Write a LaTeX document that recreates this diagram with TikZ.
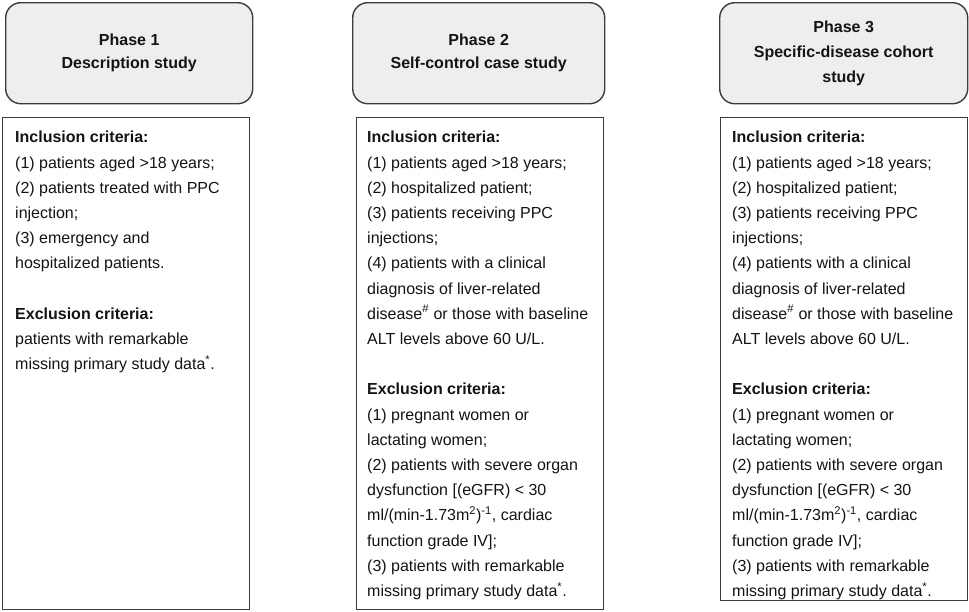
\documentclass[tikz,border=0pt]{standalone}
\usepackage{fontspec}
\setmainfont{Liberation Sans}
\definecolor{headfill}{RGB}{238,238,238}
\definecolor{boxline}{RGB}{60,60,60}
\definecolor{txt}{RGB}{20,20,20}
\begin{document}
\begin{tikzpicture}[x=1pt,y=-1pt,
  phasebox/.style={draw=boxline, fill=headfill, rounded corners=15pt, line width=1.4pt, anchor=north west, inner sep=0pt},
  critbox/.style={draw=boxline, fill=white, line width=1.4pt, anchor=north west, inner sep=0pt},
  headtext/.style={inner sep=0pt, align=center, text=txt, font=\fontsize{16}{23}\selectfont\bfseries},
  crittext/.style={anchor=north west, inner sep=0pt, align=left, text=txt, font=\fontsize{16}{25.2}\selectfont}]
\useasboundingbox (0,0) rectangle (969,611);

% headers
\node[phasebox, minimum width=247pt, minimum height=101pt] (h1) at (5,2) {};
\node[phasebox, minimum width=252pt, minimum height=101pt] (h2) at (352,2) {};
\node[phasebox, minimum width=248pt, minimum height=101pt] (h3) at (719,2) {};
\node[headtext] (t1) at (h1.center) {Phase 1\\Description study};
\node[headtext] (t2) at (h2.center) {Phase 2\\Self-control case study};
\node[headtext, font=\fontsize{16}{25}\selectfont\bfseries] (t3) at (h3.center) {Phase 3\\Specific-disease cohort\\study};

% criteria boxes
\node[critbox, minimum width=247pt, minimum height=492pt] (b1) at (2,117) {};
\node[critbox, minimum width=247pt, minimum height=492pt] (b2) at (356,117) {};
\node[critbox, minimum width=247pt, minimum height=483pt] (b3) at (720,117) {};

\node[crittext] (c1) at ([shift={(13,14)}]b1.north west) {%
\textbf{Inclusion criteria:}\\
(1) patients aged >18 years;\\
(2) patients treated with PPC\\
injection;\\
(3) emergency and\\
hospitalized patients.\\[25.2pt]
\textbf{Exclusion criteria:}\\
patients with remarkable\\
missing primary study data\textsuperscript{*}.};

\node[crittext] (c2) at ([shift={(11,14)}]b2.north west) {%
\textbf{Inclusion criteria:}\\
(1) patients aged >18 years;\\
(2) hospitalized patient;\\
(3) patients receiving PPC\\
injections;\\
(4) patients with a clinical\\
diagnosis of liver-related\\
disease\textsuperscript{\#} or those with baseline\\
ALT levels above 60 U/L.\\[25.2pt]
\textbf{Exclusion criteria:}\\
(1) pregnant women or\\
lactating women;\\
(2) patients with severe organ\\
dysfunction [(eGFR) < 30\\
ml/(min-1.73m\textsuperscript{2})\textsuperscript{-1}, cardiac\\
function grade IV];\\
(3) patients with remarkable\\
missing primary study data\textsuperscript{*}.};

\node[crittext] (c3) at ([shift={(12,14)}]b3.north west) {%
\textbf{Inclusion criteria:}\\
(1) patients aged >18 years;\\
(2) hospitalized patient;\\
(3) patients receiving PPC\\
injections;\\
(4) patients with a clinical\\
diagnosis of liver-related\\
disease\textsuperscript{\#} or those with baseline\\
ALT levels above 60 U/L.\\[25.2pt]
\textbf{Exclusion criteria:}\\
(1) pregnant women or\\
lactating women;\\
(2) patients with severe organ\\
dysfunction [(eGFR) < 30\\
ml/(min-1.73m\textsuperscript{2})\textsuperscript{-1}, cardiac\\
function grade IV];\\
(3) patients with remarkable\\
missing primary study data\textsuperscript{*}.};
\end{tikzpicture}
\end{document}
